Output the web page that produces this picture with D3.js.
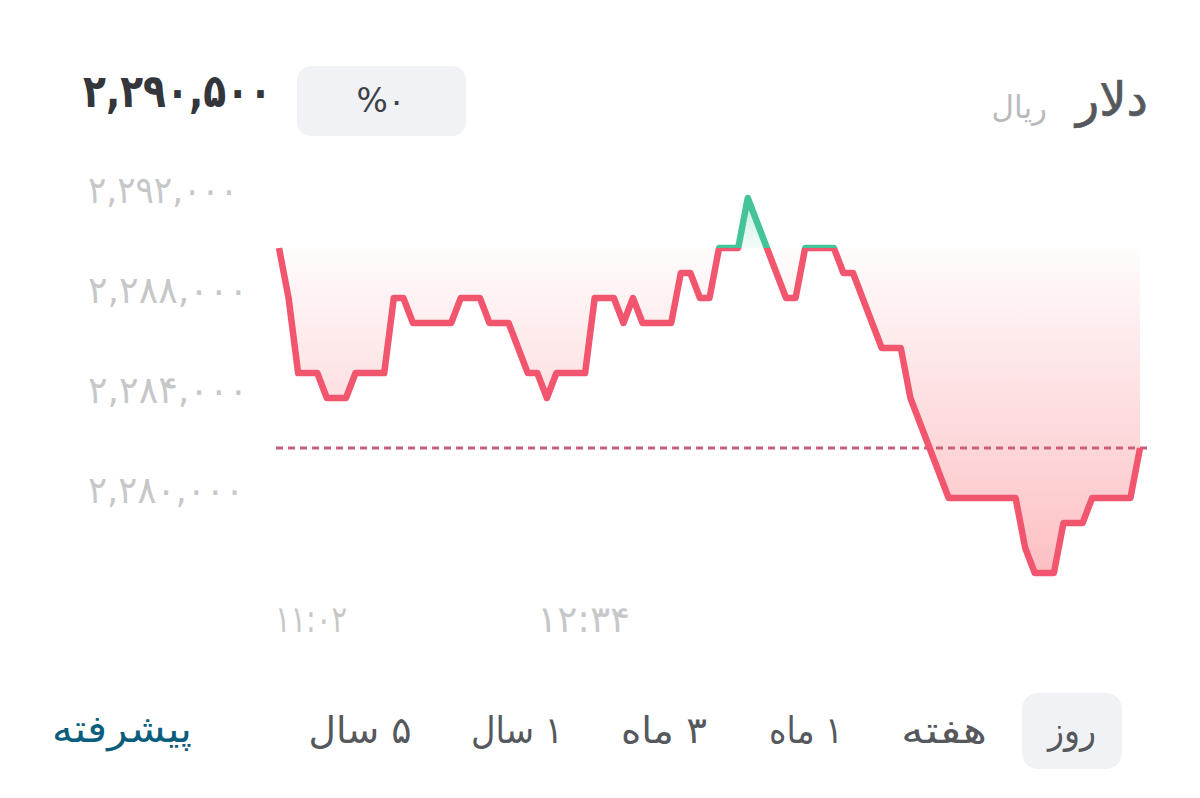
<!DOCTYPE html>
<html><head><meta charset="utf-8">
<script src="https://cdn.jsdelivr.net/npm/d3@7"></script>
<style>
html,body{margin:0;padding:0;background:#fff}
svg{display:block}
text{font-family:"DejaVu Sans",sans-serif}
</style></head><body><svg id="c" width="1200" height="798"></svg>
<script>
const prices=[2289680,2287680,2284680,2284680,2284680,2283680,2283680,2283680,2284680,2284680,2284680,2284680,2287680,2287680,2286680,2286680,2286680,2286680,2286680,2287680,2287680,2287680,2286680,2286680,2286680,2285680,2284680,2284680,2283680,2284680,2284680,2284680,2284680,2287680,2287680,2287680,2286680,2287680,2286680,2286680,2286680,2286680,2288680,2288680,2287680,2287680,2289680,2289680,2289680,2291680,2290680,2289680,2288680,2287680,2287680,2289680,2289680,2289680,2289680,2288680,2288680,2287680,2286680,2285680,2285680,2285680,2283680,2282680,2281680,2280680,2279680,2279680,2279680,2279680,2279680,2279680,2279680,2279680,2277680,2276680,2276680,2276680,2278680,2278680,2278680,2279680,2279680,2279680,2279680,2279680,2281680];
const openValue=2289680, refValue=2281680;
const yTicks=[2292000,2288000,2284000,2280000];
const yTickLabels=["۲,۲۹۲,۰۰۰","۲,۲۸۸,۰۰۰","۲,۲۸۴,۰۰۰","۲,۲۸۰,۰۰۰"];
const xTicks=[0,27.4];
const xTickLabels=["۱۱:۰۲","۱۲:۳۴"];
const tabs=["روز","هفته","۱ ماه","۳ ماه","۱ سال","۵ سال"];
const tabCenters=[1072,944,806,664,517,360];
const tabWidths=[48,86,74,86,92,103];
const yLabelWidths=[150,160,160,156];
const xLabelWidths=[72,93];

const svg=d3.select("#c");
const x=d3.scaleLinear().domain([0,prices.length-1]).range([279,1140]);
const y=d3.scaleLinear().domain([2280000,2292000]).range([490,190]);
const line=d3.line().x((d,i)=>x(i)).y(d=>y(d));
const area=d3.area().x((d,i)=>x(i)).y0(y(openValue)).y1(d=>y(d));
const defs=svg.append("defs");
function grad(id,c,stops,y1,y2){const g=defs.append("linearGradient").attr("id",id).attr("gradientUnits","userSpaceOnUse").attr("x1",0).attr("x2",0).attr("y1",y1).attr("y2",y2);
 stops.forEach(s=>g.append("stop").attr("offset",s[0]).attr("stop-color",c).attr("stop-opacity",s[1]));}
grad("gr","#f9686f",[[0,0.02],[1,0.42]],y(openValue),y(d3.min(prices)));
grad("gg","#41c79c",[[0,0.30],[1,0.06]],y(d3.max(prices)),y(openValue));
defs.append("clipPath").attr("id","above").append("rect").attr("x",260).attr("y",150).attr("width",900).attr("height",y(openValue)-150);
defs.append("clipPath").attr("id","below").append("rect").attr("x",260).attr("y",y(openValue)).attr("width",900).attr("height",500);

// header
svg.append("text").attr("x",83).attr("y",107).attr("direction","ltr").attr("font-size",46).attr("font-weight",700).attr("fill","#33363b").attr("textLength",189).attr("lengthAdjust","spacingAndGlyphs").text("۲,۲۹۰,۵۰۰");
svg.append("rect").attr("x",297).attr("y",66).attr("width",169).attr("height",70).attr("rx",14).attr("fill","#f1f2f6");
svg.append("text").attr("x",381).attr("y",112).attr("text-anchor","middle").attr("direction","ltr").attr("font-size",33).attr("fill","#3d4046").text("%۰");
svg.append("text").attr("x",1148).attr("y",116).attr("text-anchor","end").attr("font-size",48).attr("stroke","#55585c").attr("stroke-width",0.7).attr("fill","#55585c").text("دلار");
svg.append("text").attr("x",1047).attr("y",118).attr("text-anchor","end").attr("font-size",31).attr("fill","#b9babc").text("ریال");

// axes labels
svg.append("g").selectAll("text").data(yTicks).join("text").attr("x",88).attr("y",d=>y(d)+13).attr("font-size",38).attr("direction","ltr").attr("fill","#c6c7c8").attr("textLength",(d,i)=>yLabelWidths[i]).attr("lengthAdjust","spacingAndGlyphs").text((d,i)=>yTickLabels[i]);
svg.append("g").selectAll("text").data(xTicks).join("text").attr("x",d=>x(d)-4).attr("y",632).attr("direction","ltr").attr("font-size",37).attr("fill","#c6c7c8").attr("textLength",(d,i)=>xLabelWidths[i]).attr("lengthAdjust","spacingAndGlyphs").text((d,i)=>xTickLabels[i]);

// fills
svg.append("path").attr("d",area(prices)).attr("fill","url(#gr)").attr("clip-path","url(#below)");
svg.append("path").attr("d",area(prices)).attr("fill","url(#gg)").attr("clip-path","url(#above)");
// reference
svg.append("line").attr("x1",276).attr("x2",1147).attr("y1",y(refValue)).attr("y2",y(refValue)).attr("stroke","#c9607c").attr("stroke-width",3).attr("stroke-dasharray","7 5");
// lines
svg.append("path").attr("d",line(prices)).attr("fill","none").attr("stroke","#f2566f").attr("stroke-width",6.5).attr("stroke-linejoin","round").attr("clip-path","url(#below)");
svg.append("path").attr("d",line(prices)).attr("fill","none").attr("stroke","#45c49a").attr("stroke-width",6.5).attr("stroke-linejoin","round").attr("clip-path","url(#above)");

// tabs
svg.append("rect").attr("x",1022).attr("y",693).attr("width",100).attr("height",76).attr("rx",16).attr("fill","#f1f2f6");
svg.append("g").selectAll("text").data(tabs).join("text").attr("x",(d,i)=>tabCenters[i]-tabWidths[i]/2).attr("y",743).attr("direction","ltr").attr("font-size",37).attr("fill","#55585c").attr("textLength",(d,i)=>tabWidths[i]).attr("lengthAdjust","spacingAndGlyphs").style("unicode-bidi","plaintext").text(d=>d);
svg.append("text").attr("x",52).attr("y",742).attr("font-size",38).attr("fill","#0b5d7c").attr("textLength",140).attr("lengthAdjust","spacingAndGlyphs").style("unicode-bidi","plaintext").text("پیشرفته");
</script></body></html>
